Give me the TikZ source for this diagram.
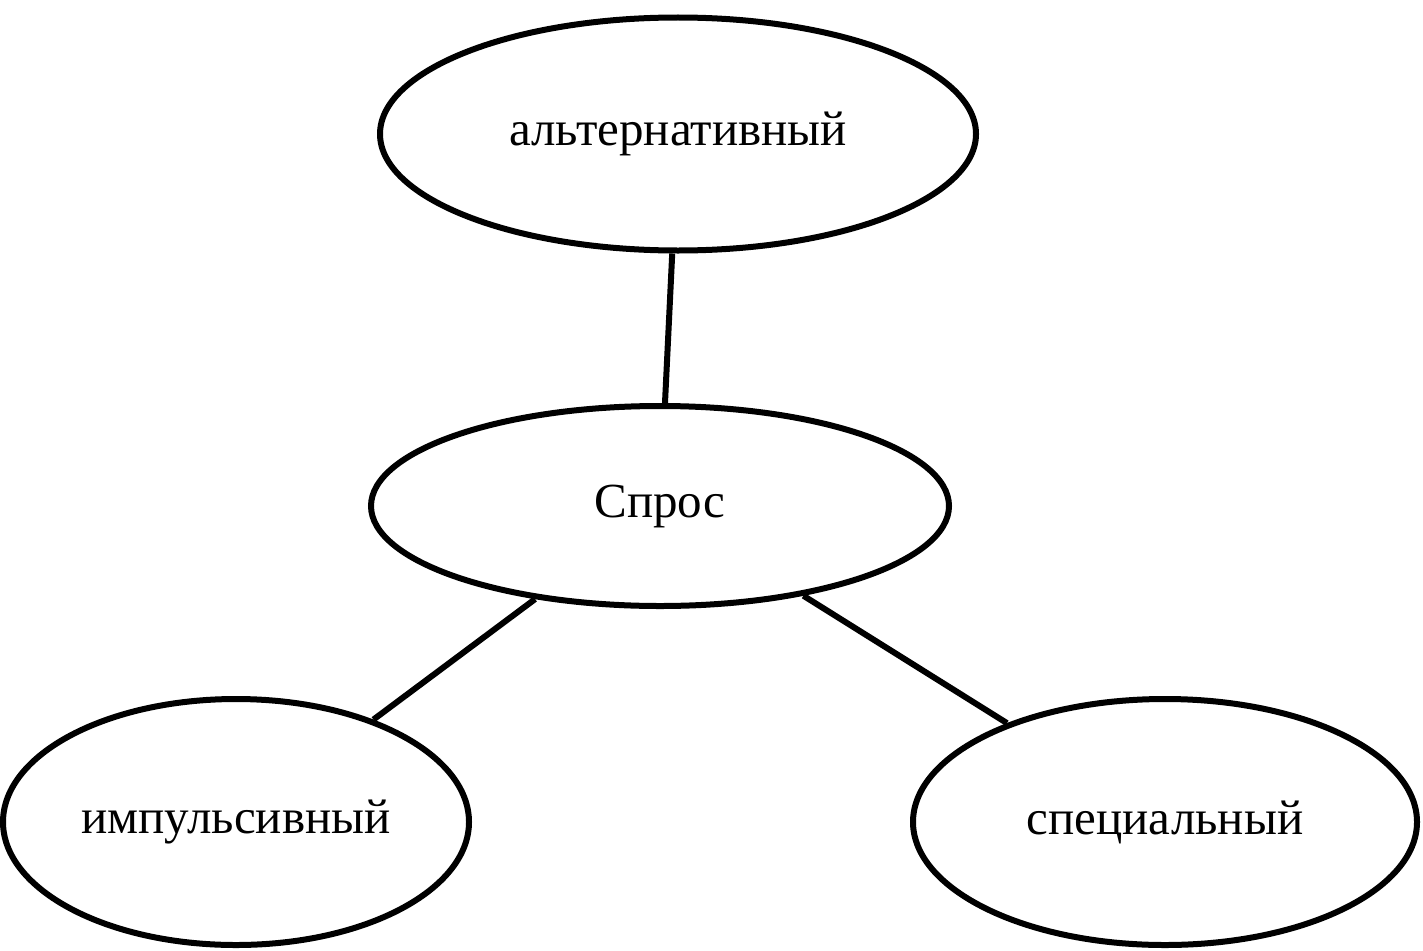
\documentclass[tikz,border=0pt]{standalone}
\usepackage{fontspec}
\setmainfont{Liberation Serif}
\usetikzlibrary{shapes.geometric}
\begin{document}
\begin{tikzpicture}[x=1pt,y=-1pt,
  oval/.style={ellipse,draw=black,line width=6pt,inner sep=0pt,font=\fontsize{49}{56}\selectfont},
  link/.style={draw=black,line width=6pt}]
\useasboundingbox (0,0) rectangle (1423,950);
\node[oval,minimum width=596pt,minimum height=233pt] (alt) at (678,134) {альтернативный};
\node[oval,minimum width=578pt,minimum height=200pt] (dem) at (660,506) {Спрос};
\node[oval,minimum width=466pt,minimum height=246pt] (imp) at (236,822) {импульсивный};
\node[oval,minimum width=504pt,minimum height=246pt] (spec) at (1165,822) {специальный};
\draw[link] (alt) -- (dem);
\draw[link] (dem) -- (imp);
\draw[link] (dem) -- (spec);
\end{tikzpicture}
\end{document}
